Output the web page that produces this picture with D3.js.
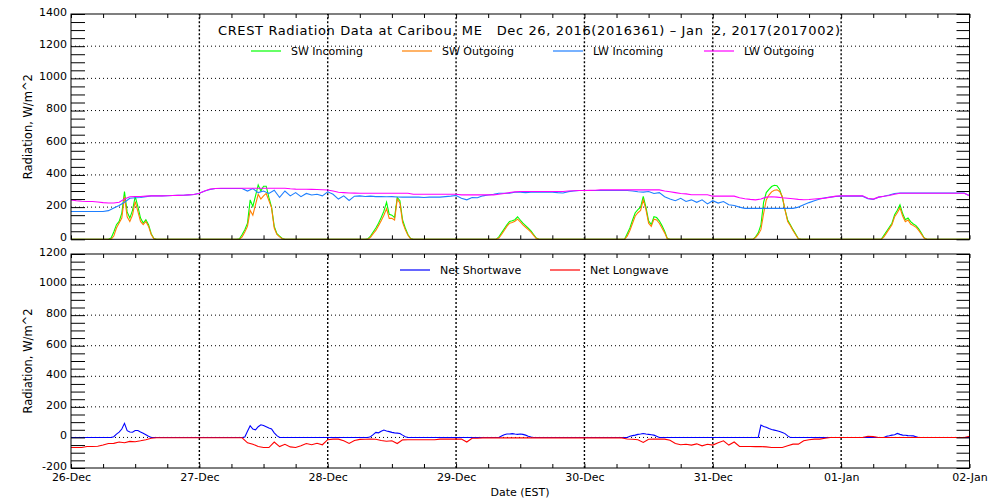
<!DOCTYPE html>
<html>
<head>
<meta charset="utf-8">
<script src="https://cdn.jsdelivr.net/npm/d3@7"></script>
<style>
body{margin:0;background:#fff;}
text{font-family:"DejaVu Sans",sans-serif;}
</style>
</head>
<body>
<script>
// hourly values, 26-Dec 00:00 EST .. 02-Jan 00:00 (169 points)
var lwIn = [
173,173,173,173,173,173,173,178,195,210,
230,255,258,260,265,270,270,270,271,272,
273,274,276,278,286,300,310,316,316,316,
316,316,316,300,315,290,300,285,305,260,
300,270,290,265,285,275,280,270,295,280,
250,270,241,268,270,266,268,265,266,264,
265,263,262,262,262,262,260,262,262,262,
265,268,272,255,245,260,258,270,275,280,
286,286,287,292,292,290,293,292,294,292,
293,290,288,296,300,303,303,303,303,303,
303,303,303,303,303,300,295,293,297,285,
290,265,250,240,255,235,245,230,245,220,
240,225,235,215,210,200,192,192,192,192,
192,192,192,192,192,192,200,215,228,240,
250,258,262,266,268,268,268,268,268,252,
248,262,268,275,285,288,288,288,288,288,
288,288,288,288,288,288,288,288,270];
var lwOut = [
245,240,236,235,235,232,228,226,226,230,
250,264,266,266,268,270,270,270,271,272,
273,274,276,278,286,300,312,316,317,317,
317,317,317,317,317,317,317,317,317,317,
317,314,312,311,311,310,309,308,306,300,
292,290,288,287,286,286,286,286,286,286,
286,286,286,286,280,280,280,280,280,280,
280,280,280,276,276,276,276,276,276,276,
280,285,290,295,297,297,297,297,297,297,
297,297,297,300,302,303,303,304,305,307,
307,307,307,307,307,307,307,307,307,307,
307,300,295,290,285,282,277,277,277,277,
268,268,268,268,268,258,252,248,245,250,
262,264,262,258,255,252,248,246,247,250,
253,256,262,268,270,270,270,270,270,255,
250,262,268,272,280,286,286,286,286,286,
286,286,286,286,286,286,286,286,270];
var netLw = [
-66,-66,-66,-59,-59,-58,-50,-40,-39,-30,
-35,-26,-28,-22,-15,-5,-2,-2,-2,-2,
-2,-2,-2,-2,-2,-2,-2,-2,-2,-2,
-2,-2,-2,-35,-44,-59,-66,-66,-30,-60,
-45,-62,-66,-55,-40,-48,-38,-48,-15,-11,
-11,-22,-39,-20,-13,-12,-11,-12,-20,-25,
-22,-40,-16,-15,-15,-15,-15,-15,-15,-11,
-11,-11,-11,-11,-30,-5,-5,-3,-3,-3,
-3,-3,-3,-3,-3,-3,-3,-3,-3,-3,
-3,-3,-3,-3,-3,-3,-3,-3,-3,-3,
-3,-3,-3,-3,-10,-12,-15,-33,-12,-10,
-11,-11,-18,-40,-48,-45,-50,-42,-55,-45,
-50,-35,-22,-50,-30,-59,-59,-59,-60,-60,
-62,-66,-66,-66,-55,-44,-44,-22,-15,-11,
-11,-5,0,0,0,0,0,0,0,8,
5,0,0,0,0,0,0,0,0,0,
0,0,0,0,0,0,0,0,8];

// shortwave: half-hourly values each day from 07:00 to 16:30 (zero at night)
var swIn = [
[0,8,45,91,111,163,297,170,132,180,266,204,132,101,122,91,35,5,0,0],
[0,3,30,60,100,245,204,270,338,300,330,330,260,200,80,35,20,5,0,0],
[0,3,20,45,70,100,135,175,230,155,150,135,260,240,120,70,30,5,0,0],
[0,0,15,40,65,90,111,115,122,140,120,100,85,70,52,30,8,0,0,0],
[0,0,35,70,120,165,184,200,266,200,115,91,140,135,115,85,50,5,0,0],
[0,0,15,40,90,230,290,310,328,336,333,310,260,184,120,90,60,32,3,0],
[0,0,25,50,75,100,153,180,214,160,122,132,110,95,85,65,39,10,0,0]];
var swOut = [
[0,0,20,70,101,132,266,140,111,150,235,173,111,91,111,80,29,3,0,0],
[0,0,15,45,80,180,150,215,280,250,270,285,240,195,70,30,15,3,0,0],
[0,0,12,35,55,85,115,150,190,130,130,120,250,225,105,60,25,3,0,0],
[0,0,8,30,55,80,100,105,112,125,108,90,75,60,45,25,5,0,0,0],
[0,0,20,55,100,145,165,180,245,185,100,80,125,120,100,70,40,3,0,0],
[0,0,10,30,60,160,245,275,295,305,307,297,266,184,110,85,55,28,3,0],
[0,0,15,40,65,90,140,165,195,145,110,120,95,85,75,55,32,8,0,0]];
var netSw = [
[0,0,5,22,35,55,92,44,36,34,45,45,35,28,18,8,0,0,0,0],
[0,0,0,3,40,77,55,50,70,83,78,70,62,55,30,12,0,0,0,0],
[0,0,5,18,33,30,40,48,42,38,33,30,28,26,15,5,0,0,0,0],
[0,0,0,10,18,22,22,25,22,20,22,20,15,8,3,0,0,0,0,0],
[0,0,0,8,12,15,20,22,26,22,20,18,15,8,0,0,0,0,0,0],
[0,0,0,0,81,72,66,58,52,48,44,39,32,25,10,0,0,0,0,0],
[0,0,0,8,11,15,18,26,20,15,14,12,11,10,5,0,0,0,0,0]];

var topNames = ["SW Incoming","SW Outgoing","LW Incoming","LW Outgoing"];
var topColors = ["#00ff00","#ff8000","#1e7fff","#ff00ff"];
var botNames = ["Net Shortwave","Net Longwave"];
var botColors = ["#0000ff","#ff0000"];
var titleText = "CREST Radiation Data at Caribou, ME   Dec 26, 2016(2016361) \u2013 Jan  2, 2017(2017002)";

var t0 = Date.UTC(2016,11,26), HR = 3600e3;
var swStart = 7, swStep = 0.5;

function hourly(arr){
    return arr.map(function(v,i){ return {t:new Date(t0+i*HR), v:v}; });
}
function daily(rows){
    var out = [];
    for (var k=0;k<=336;k++){
        var h = k*0.5, day = Math.floor(h/24), idx = (h-day*24-swStart)/swStep, v = 0;
        if (day<rows.length && idx>=0 && idx<rows[day].length) v = rows[day][idx];
        out.push({t:new Date(t0+h*HR), v:v});
    }
    return out;
}

var svg = d3.select("body").append("svg")
    .attr("width",1000).attr("height",500)
    .style("background","#fff");

var x = d3.scaleUtc()
    .domain([new Date(t0), new Date(t0+168*HR)])
    .range([71,969.5]);

var yTop = d3.scaleLinear().domain([0,1400]).range([239.3,14]);
var yBot = d3.scaleLinear().domain([-200,1200]).range([468,254]);

function panel(y, lo, hi, series, colors, showDates){
    var g = svg.append("g");
    var y0 = y.range()[0], y1 = y.range()[1];
    // grid
    g.selectAll(".hg").data(d3.range(lo+200, hi, 200)).enter().append("line")
        .attr("x1",71).attr("x2",969.5)
        .attr("y1",function(d){return y(d);}).attr("y2",function(d){return y(d);})
        .attr("stroke","#000").attr("stroke-width",1).attr("stroke-dasharray","1,3");
    g.selectAll(".vg").data(d3.utcDay.range(new Date(t0+24*HR), new Date(t0+168*HR))).enter().append("line")
        .attr("x1",function(d){return x(d);}).attr("x2",function(d){return x(d);})
        .attr("y1",y0).attr("y2",y1)
        .attr("stroke","#000").attr("stroke-width",1.4).attr("stroke-dasharray","2,2");
    // data
    var line = d3.line().x(function(d){return x(d.t);}).y(function(d){return y(d.v);});
    series.forEach(function(s,i){
        g.append("path").datum(s).attr("d",line)
            .attr("fill","none").attr("stroke",colors[i]).attr("stroke-width",1.1);
    });
    // axes
    var ticks = d3.range(lo, hi+1, 50);
    var la = g.append("g").attr("transform","translate(71,0)")
        .call(d3.axisLeft(y).tickValues(ticks).tickSize(-14).tickPadding(4)
            .tickFormat(function(d){ return d%200===0 ? d : ""; }));
    la.selectAll("text").attr("dy","0.12em");
    var ra = g.append("g").attr("transform","translate(969.5,0)")
        .call(d3.axisRight(y).tickValues(ticks).tickSize(-13).tickFormat(""));
    var ba = g.append("g").attr("transform","translate(0,"+y0+")")
        .call(d3.axisBottom(x).ticks(d3.utcHour.every(6)).tickSize(-4).tickFormat(""));
    var ta = g.append("g").attr("transform","translate(0,"+y1+")")
        .call(d3.axisTop(x).ticks(d3.utcHour.every(6)).tickSize(-4).tickFormat(""));
    [la,ra,ba,ta].forEach(function(a){
        a.select(".domain").remove();
        a.selectAll("line").attr("stroke","#000");
        a.selectAll("text").attr("font-family","DejaVu Sans").attr("font-size",11).attr("fill","#000");
    });
    if (showDates){
        var da = g.append("g").attr("transform","translate(0,"+y0+")")
            .call(d3.axisBottom(x).ticks(d3.utcDay.every(1)).tickSize(0).tickPadding(5)
                .tickFormat(d3.utcFormat("%d-%b")));
        da.select(".domain").remove();
        da.selectAll("text").attr("font-family","DejaVu Sans").attr("font-size",11).attr("fill","#000");
    }
    g.append("rect").attr("x",71).attr("y",y1).attr("width",898.5).attr("height",y0-y1)
        .attr("fill","none").attr("stroke","#000").attr("stroke-width",1);
    g.append("text").attr("transform","translate(32,"+((y0+y1)/2)+") rotate(-90)")
        .attr("text-anchor","middle").attr("font-size",11.5).text("Radiation, W/m^2");
    return g;
}

panel(yTop, 0, 1400, [daily(swIn), daily(swOut), hourly(lwIn), hourly(lwOut)], topColors, false);
panel(yBot, -200, 1200, [daily(netSw), hourly(netLw)], botColors, true);

// title & legends
svg.append("text").attr("x",218).attr("y",35).attr("font-size",13)
    .attr("textLength",622).attr("lengthAdjust","spacing")
    .style("white-space","pre").text(titleText);

function legend(names, colors, x0, step, ly){
    names.forEach(function(n,i){
        var lx = x0 + i*step;
        svg.append("line").attr("x1",lx).attr("x2",lx+30).attr("y1",ly).attr("y2",ly)
            .attr("stroke",colors[i]).attr("stroke-width",1.2);
        svg.append("text").attr("x",lx+40).attr("y",ly+4).attr("font-size",11).text(n);
    });
}
legend(topNames, topColors, 251, 151, 51);
legend(botNames, botColors, 400, 150, 270);

svg.append("text").attr("x",520).attr("y",496).attr("text-anchor","middle")
    .attr("font-size",11).text("Date (EST)");
</script>
</body>
</html>
